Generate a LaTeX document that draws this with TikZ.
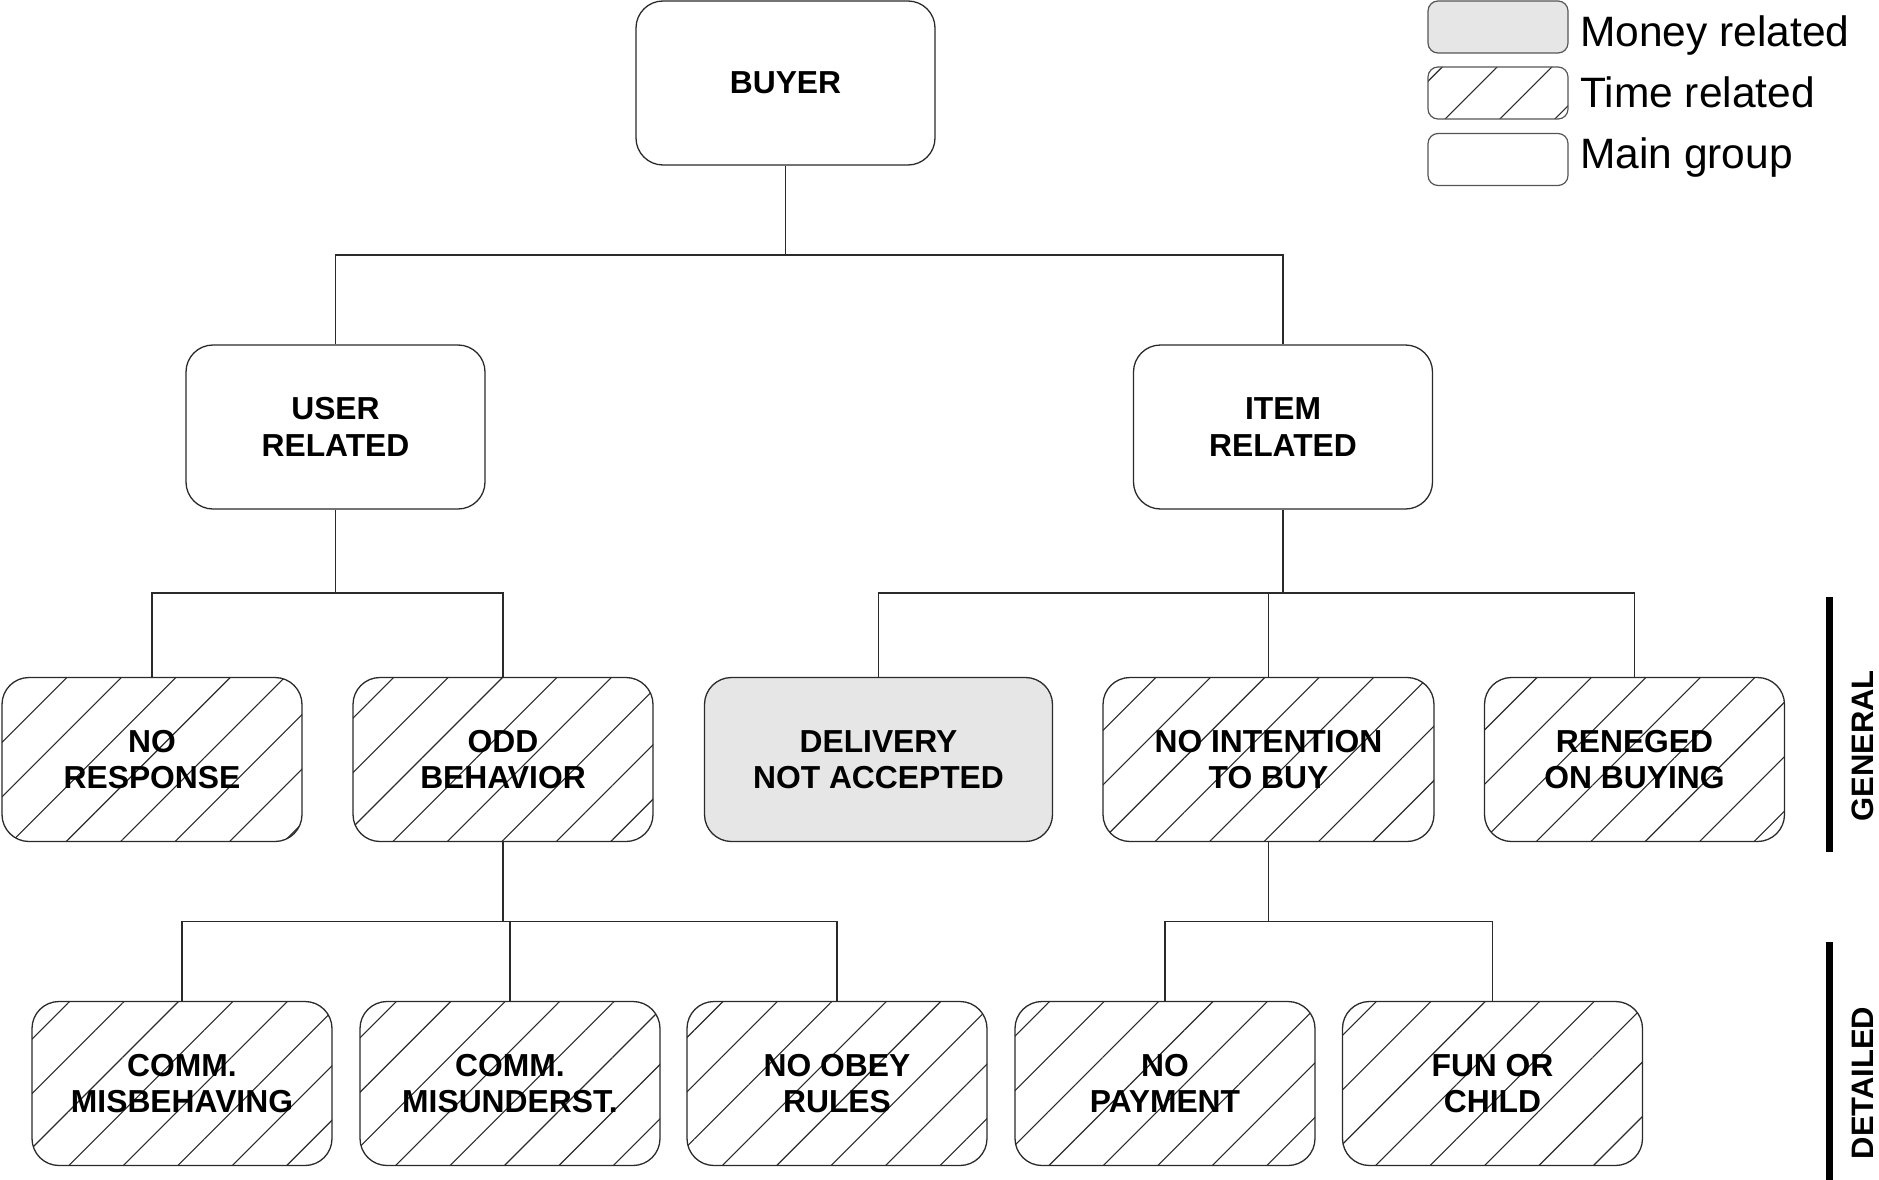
\documentclass[tikz,border=0pt]{standalone}
\usepackage{fontspec}
\setmainfont{Liberation Sans}
\usetikzlibrary{patterns.meta}
\definecolor{moneygray}{HTML}{E6E6E6}
\definecolor{edge}{HTML}{2A2A2A}
\tikzset{
  box/.style={draw=edge, line width=1.3pt, rounded corners=27pt, minimum width=300pt,
    minimum height=164pt, align=center, inner sep=0pt,
    font=\bfseries\fontsize{31.8}{36.5}\selectfont},
  hatched/.style={box, pattern={Lines[angle=45,distance=38.5pt,line width=1.1pt]}, pattern color=edge},
  money/.style={box, fill=moneygray},
  conn/.style={line width=1.3pt, draw=edge},
  legbox/.style={draw=edge!80, line width=1.2pt, rounded corners=10pt, minimum width=140pt, minimum height=52pt, inner sep=0pt},
  legtext/.style={anchor=base west, inner sep=0pt, font=\fontsize{42.5}{42.5}\selectfont},
  levelbar/.style={line width=7pt, draw=black},
  leveltext/.style={rotate=90, inner sep=0pt, font=\bfseries\fontsize{31}{31}\selectfont}
}
\begin{document}
\begin{tikzpicture}[x=1pt,y=-1pt]
\useasboundingbox (0,0) rectangle (1879,1180);
% level 1 and 2
\node[box, minimum width=299pt] (buyer) at (785.5,83) {BUYER};
\node[box, minimum width=299pt] (user) at (335.5,427) {USER\\RELATED};
\node[box, minimum width=299pt] (item) at (1283,427) {ITEM\\RELATED};
% level 3
\node[hatched] (noresp) at (152,759.5) {NO\\RESPONSE};
\node[hatched] (odd) at (503,759.5) {ODD\\BEHAVIOR};
\node[money, minimum width=348pt] (deliv) at (878.5,759.5) {DELIVERY\\NOT ACCEPTED};
\node[hatched, minimum width=331pt] (noint) at (1268.5,759.5) {NO INTENTION\\TO BUY};
\node[hatched] (reneged) at (1634.5,759.5) {RENEGED\\ON BUYING};
% level 4
\node[hatched] (cmis) at (182,1083.5) {COMM.\\MISBEHAVING};
\node[hatched] (cmisu) at (510,1083.5) {COMM.\\MISUNDERST.};
\node[hatched] (noobey) at (837,1083.5) {NO OBEY\\RULES};
\node[hatched] (nopay) at (1165,1083.5) {NO\\PAYMENT};
\node[hatched] (fun) at (1492.5,1083.5) {FUN OR\\CHILD};
% junctions
\coordinate (j1) at (785.5,255);
\coordinate (j2) at (335.5,593);
\coordinate (j3) at (1283,593);
\coordinate (j4) at (503,921.5);
\coordinate (j5) at (1268.5,921.5);
% connectors
\draw[conn] (buyer.south) -- (j1);
\draw[conn] (user.north) |- (j1) -| (item.north);
\draw[conn] (user.south) -- (j2);
\draw[conn] (noresp.north) |- (j2) -| (odd.north);
\draw[conn] (item.south) -- (j3);
\draw[conn] (deliv.north) |- (j3) -| (reneged.north);
\draw[conn] (noint.north) -- (noint.north |- j3);
\draw[conn] (odd.south) -- (j4);
\draw[conn] (cmis.north) |- (j4) -| (noobey.north);
\draw[conn] (cmisu.north) -- (cmisu.north |- j4);
\draw[conn] (noint.south) -- (j5);
\draw[conn] (nopay.north) |- (j5) -| (fun.north);
% legend
\node[legbox, fill=moneygray] (lmoney) at (1498,27) {};
\node[legbox, pattern={Lines[angle=45,distance=38.8pt,line width=1.1pt]}, pattern color=edge] (ltime) at (1498,93) {};
\node[legbox] (lmain) at (1498,159.5) {};
\node[legtext] (tmoney) at (1580,47) {Money related};
\node[legtext] (ttime) at (1580,108) {Time related};
\node[legtext] (tmain) at (1580,168) {Main group};
% level bars
\coordinate (g1) at (1829.5,597);
\coordinate (g2) at (1829.5,852);
\coordinate (d1) at (1829.5,942);
\coordinate (d2) at (1829.5,1180);
\draw[levelbar] (g1) -- (g2);
\draw[levelbar] (d1) -- (d2);
\node[leveltext] (general) at (1862.5,746) {GENERAL};
\node[leveltext] (detailed) at (1862.5,1083) {DETAILED};
\end{tikzpicture}
\end{document}
